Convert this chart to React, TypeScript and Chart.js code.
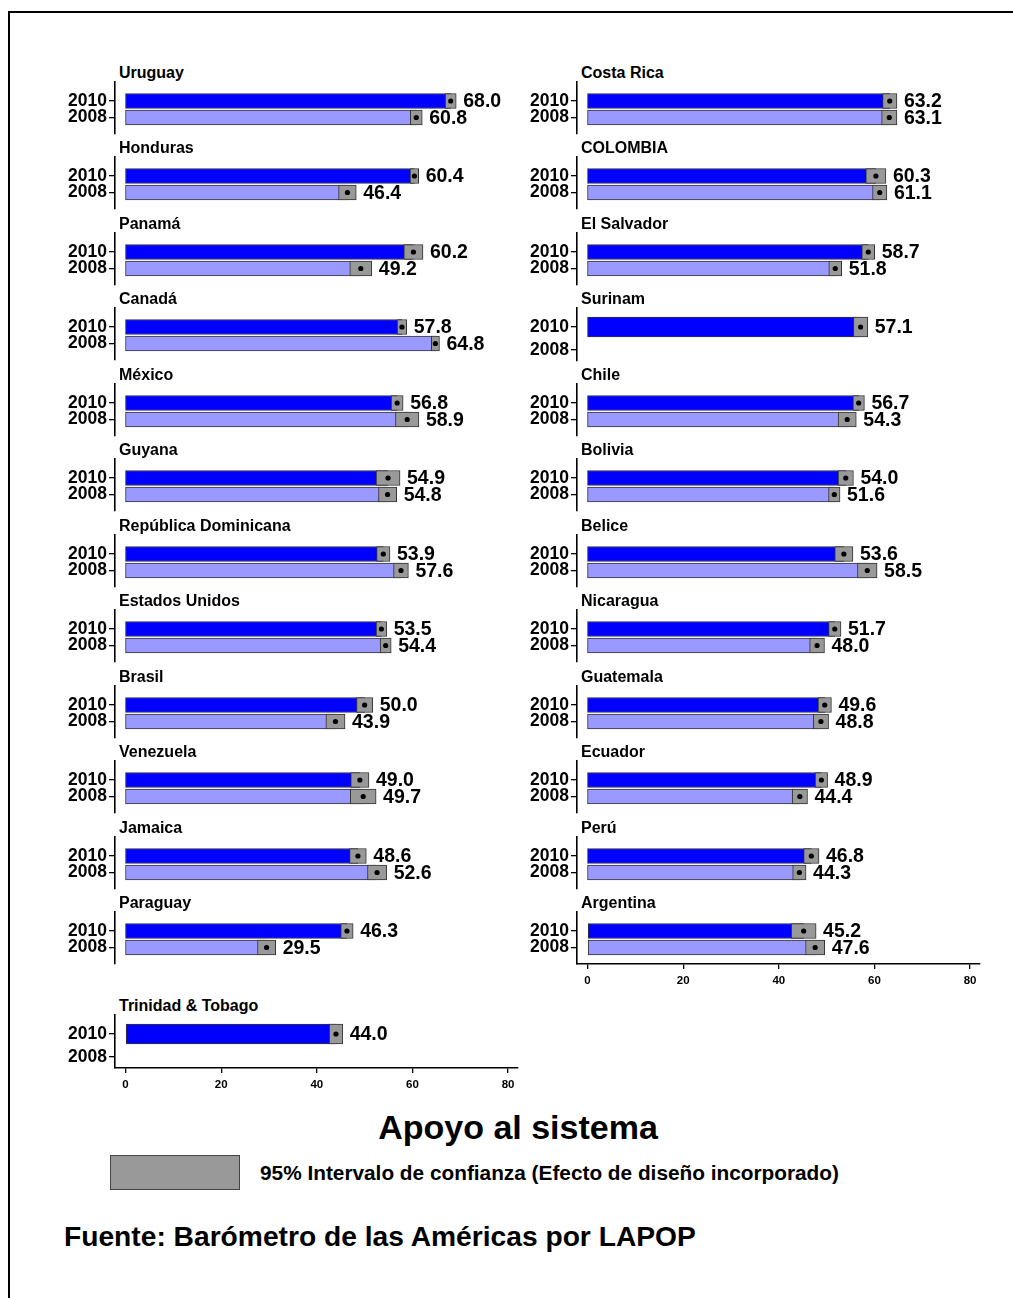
import React, { useEffect, useRef } from 'react';
import { Chart, registerables } from 'chart.js';

Chart.register(...registerables);

// ---------- data (row-major order: left column, right column) ----------
const countries = [
  'Uruguay', 'Costa Rica', 'Honduras', 'COLOMBIA', 'Panamá', 'El Salvador',
  'Canadá', 'Surinam', 'México', 'Chile', 'Guyana', 'Bolivia',
  'República Dominicana', 'Belice', 'Estados Unidos', 'Nicaragua', 'Brasil', 'Guatemala',
  'Venezuela', 'Ecuador', 'Jamaica', 'Perú', 'Paraguay', 'Argentina', 'Trinidad & Tobago',
];
const apoyo2010 = [
  68.0, 63.2, 60.4, 60.3, 60.2, 58.7, 57.8, 57.1, 56.8, 56.7, 54.9, 54.0,
  53.9, 53.6, 53.5, 51.7, 50.0, 49.6, 49.0, 48.9, 48.6, 46.8, 46.3, 45.2, 44.0,
];
const apoyo2008: (number | null)[] = [
  60.8, 63.1, 46.4, 61.1, 49.2, 51.8, 64.8, null, 58.9, 54.3, 54.8, 51.6,
  57.6, 58.5, 54.4, 48.0, 43.9, 48.8, 49.7, 44.4, 52.6, 44.3, 29.5, 47.6, null,
];
// half-width of the 95% confidence interval
const ic2010 = [
  1.15, 1.5, 0.9, 2.1, 2.0, 1.35, 1.0, 1.5, 1.25, 1.2, 2.5, 1.6,
  1.4, 1.9, 1.1, 1.3, 1.7, 1.4, 1.9, 1.3, 1.75, 1.6, 1.3, 2.6, 1.4,
];
const ic2008: (number | null)[] = [
  1.25, 1.6, 1.85, 1.5, 2.3, 1.35, 0.85, null, 2.45, 1.9, 1.9, 1.2,
  1.55, 2.05, 1.15, 1.55, 2.0, 1.6, 2.7, 1.6, 2.0, 1.4, 1.9, 2.0, null,
];
const years = ['2010', '2008'];
const xTicks = [0, 20, 40, 60, 80];

// ---------- styling ----------
const FONT = '"Liberation Sans", Arial, sans-serif';
const BLUE = '#0000ff';
const LIGHT = '#9999ff';
const GRAY = '#999999';
const EDGE = '#333333';

const X_MIN = -2.2;
const X_MAX = 82.07;
const PLOT_W = 403;
const COL_LEFT = [115, 577];
const Y_W = 70;
const PAD_T = 14;
const PAD_R = 10;
const PAD_B = 14;
const X_H = 30;

function panelGeometry(i: number) {
  const col = i % 2;
  const row = Math.floor(i / 2);
  const single = apoyo2008[i] == null;
  const isBottom = i + 2 >= countries.length;
  const tickY = 101 + 75.45 * row + (row >= 12 ? 28 : 0);
  const plotTop = Math.round(tickY - 19);
  const H = single ? 53 : 52;
  const step = single ? 23 : 16.5;
  const barT = single ? 20 : 15;
  return { col, row, single, isBottom, tickY, plotTop, H, step, barT, plotLeft: COL_LEFT[col] };
}

function Panel({ i }: { i: number }) {
  const ref = useRef<HTMLCanvasElement>(null);
  const g = panelGeometry(i);
  const cw = Y_W + PLOT_W + PAD_R;
  const ch = PAD_T + g.H + (g.isBottom ? X_H : PAD_B);

  useEffect(() => {
    if (!ref.current) return;
    const v10 = apoyo2010[i];
    const v08 = apoyo2008[i];
    const e10 = ic2010[i];
    const e08 = ic2008[i];

    const entries: { pos: number; mean: number; hi: number }[] = [
      { pos: 0, mean: v10, hi: v10 + e10 },
    ];
    if (v08 != null && e08 != null) entries.push({ pos: 1, mean: v08, hi: v08 + e08 });

    const datasets: any[] = [
      {
        type: 'bar', label: years[0], data: [{ x: v10, y: 0 }],
        backgroundColor: BLUE, borderColor: EDGE, borderWidth: 1, borderSkipped: false,
        barThickness: g.barT, order: 3,
      },
    ];
    if (v08 != null) {
      datasets.push({
        type: 'bar', label: years[1], data: [{ x: v08, y: 1 }],
        backgroundColor: LIGHT, borderColor: EDGE, borderWidth: 1, borderSkipped: false,
        barThickness: g.barT, order: 3,
      });
    }
    const ciData: any[] = [{ x: [v10 - e10, v10 + e10], y: 0 }];
    if (v08 != null && e08 != null) ciData.push({ x: [v08 - e08, v08 + e08], y: 1 });
    datasets.push({
      type: 'bar', label: 'IC 95%', data: ciData,
      backgroundColor: GRAY, borderColor: EDGE, borderWidth: 1, borderSkipped: false,
      barThickness: g.barT, order: 2,
    });
    datasets.push({
      type: 'scatter', label: 'media', data: entries.map((e) => ({ x: e.mean, y: e.pos })),
      pointRadius: 2.6, pointBackgroundColor: '#000', pointBorderWidth: 0, order: 1,
    });

    const labelPlugin = {
      id: 'valueLabels',
      afterDatasetsDraw(chart: any) {
        const { ctx, scales } = chart;
        ctx.save();
        ctx.fillStyle = '#000';
        ctx.font = `bold 19.5px ${FONT}`;
        ctx.textAlign = 'left';
        ctx.textBaseline = 'middle';
        entries.forEach((e) => {
          const px = scales.x.getPixelForValue(e.hi) + 7;
          const py = scales.y.getPixelForValue(e.pos) + 1;
          ctx.fillText(e.mean.toFixed(1), px, py);
        });
        ctx.restore();
      },
    };

    const yMin = -19 / g.step;
    const yMax = (g.H - 19) / g.step;

    const xScale: any = {
      type: 'linear',
      min: X_MIN,
      max: X_MAX,
      offset: false,
      stacked: false,
      display: g.isBottom,
      afterBuildTicks: (s: any) => { s.ticks = xTicks.map((v) => ({ value: v })); },
      grid: { drawOnChartArea: false, drawTicks: true, tickLength: 5, color: '#000', lineWidth: 1.3, offset: false },
      border: { display: true, color: '#000', width: 1.6 },
      ticks: { color: '#000', font: { family: FONT, size: 11.5, weight: 'bold' }, padding: 5, maxRotation: 0, autoSkip: false },
    };
    if (g.isBottom) xScale.afterFit = (s: any) => { s.height = X_H; };

    const chart = new Chart(ref.current, {
      type: 'bar',
      data: { datasets },
      options: {
        indexAxis: 'y',
        animation: false,
        responsive: false,
        devicePixelRatio: 1,
        events: [],
        layout: { padding: { left: 0, top: PAD_T, right: PAD_R, bottom: g.isBottom ? 0 : PAD_B } },
        plugins: { legend: { display: false }, tooltip: { enabled: false }, title: { display: false } },
        scales: {
          x: xScale,
          y: {
            type: 'linear',
            min: yMin,
            max: yMax,
            reverse: true,
            offset: false,
            stacked: true,
            bounds: 'data',
            afterBuildTicks: (s: any) => { s.ticks = years.map((_, k) => ({ value: k })); },
            afterFit: (s: any) => { s.width = Y_W; },
            grid: { drawOnChartArea: false, drawTicks: true, tickLength: 6, color: '#000', lineWidth: 1.3, offset: false },
            border: { display: true, color: '#000', width: 1.6 },
            ticks: {
              color: '#000', font: { family: FONT, size: 17.5, weight: 'bold' }, padding: 2, autoSkip: false,
              callback: (v: any) => years[v as number] ?? '',
            },
          },
        },
      },
      plugins: [labelPlugin],
    } as any);
    return () => chart.destroy();
  }, [i]);

  return (
    <>
      <div
        style={{
          position: 'absolute', left: g.plotLeft + 4, top: Math.round(g.tickY - 27 - 10),
          lineHeight: '20px', font: `bold 16px ${FONT}`, color: '#000', whiteSpace: 'nowrap',
        }}
      >
        {countries[i]}
      </div>
      <canvas
        ref={ref}
        width={cw}
        height={ch}
        style={{ position: 'absolute', left: g.plotLeft - Y_W, top: g.plotTop - PAD_T, width: cw, height: ch }}
      />
    </>
  );
}

export default function App() {
  return (
    <div
      style={{
        position: 'absolute', left: 0, top: 0, width: 1013, height: 1298,
        overflow: 'hidden', background: '#fff', fontFamily: FONT,
      }}
    >
      <div
        style={{
          position: 'absolute', left: 8, top: 11, width: 1100, height: 1400,
          borderTop: '2px solid #000', borderLeft: '2px solid #000',
        }}
      />
      {countries.map((_, i) => (
        <Panel key={i} i={i} />
      ))}
      <div
        style={{
          position: 'absolute', left: 518, top: 1108, transform: 'translateX(-50%)',
          lineHeight: '40px', font: `bold 34px ${FONT}`, color: '#000', whiteSpace: 'nowrap',
        }}
      >
        Apoyo al sistema
      </div>
      <div
        style={{
          position: 'absolute', left: 110, top: 1155, width: 130, height: 35, boxSizing: 'border-box',
          background: GRAY, border: '1px solid #444',
        }}
      />
      <div
        style={{
          position: 'absolute', left: 260, top: 1161, lineHeight: '24px',
          font: `bold 20.8px ${FONT}`, color: '#000', whiteSpace: 'nowrap',
        }}
      >
        95% Intervalo de confianza (Efecto de diseño incorporado)
      </div>
      <div
        style={{
          position: 'absolute', left: 64, top: 1220, lineHeight: '32px',
          font: `bold 28.2px ${FONT}`, color: '#000', whiteSpace: 'nowrap',
        }}
      >
        Fuente: Barómetro de las Américas por LAPOP
      </div>
    </div>
  );
}
